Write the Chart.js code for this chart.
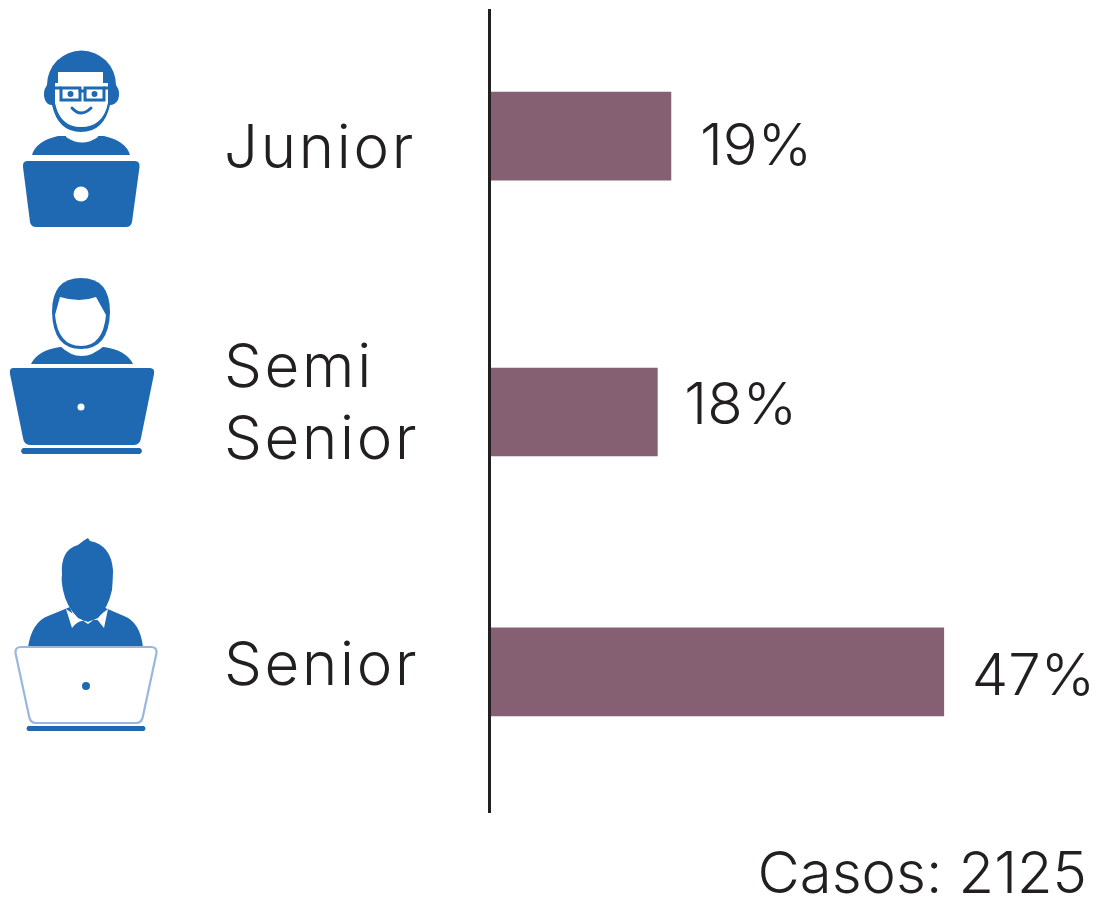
<!DOCTYPE html>
<html><head><meta charset="utf-8">
<style>html,body{margin:0;padding:0;background:#fff}canvas{display:block}</style>
<script src="https://cdn.jsdelivr.net/npm/chart.js@4"></script></head>
<body><canvas id="c" width="1099" height="898"></canvas>
<script>
const categories = [['Junior'], ['Semi','Senior'], ['Senior']];
const barValues = [18.8, 17.4, 47];
const valueLabels = ['19%', '18%', '47%'];
const casesLabel = 'Casos: 2125';

const INK = '#231f20', BAR = '#856073', BLUE = '#1f69b3', FONT = 'Inter';
const rowShift = [-7.5, 1, -6.5];
const tickShift = [6.5, -6, -11];
const valueDx = [29, 27, 28];
const valueDy = [11.5, -5, 6];

function installRows(scale){
  if (scale._rowsInstalled) return;
  scale._rowsInstalled = true;
  const base = scale.getPixelForValue.bind(scale);
  scale.getPixelForValue = (v,i)=>{
    const idx = typeof v==='number' ? v : scale.parse(v);
    return base(idx) + (rowShift[idx]||0);
  };
  scale.getPixelForTick = (i)=> base(scale.ticks[i].value) + tickShift[i];
  const dl = scale.drawLabels.bind(scale);
  scale.drawLabels = (a)=>{ scale.ctx.letterSpacing='2.7px'; dl(a); scale.ctx.letterSpacing='0px'; };
}

function P(ctx,d,fill){ctx.fillStyle=fill;ctx.fill(new Path2D(d));}
function drawIcons(ctx){
  ctx.save();
  // Junior
  P(ctx,'M32,155 Q36,141 58,136 L104,136 Q126,141 130,155 Z',BLUE);
  P(ctx,'M67,130 L96,130 L98,137 Q82,148 66,137 Z','#fff');
  P(ctx,'M47,85 A34.5,34.5 0 0 1 116,85 Q121,92 118,100 Q115,105 110,105 Q104,132 81,132 Q58,132 52,105 Q47,105 45,100 Q42,92 47,85 Z',BLUE);
  P(ctx,'M58,72 L103,72 L103,83 L108,83 L108,103 Q103,127 81,127 Q60,127 55,103 L55,83 L58,83 Z','#fff');
  ctx.strokeStyle=BLUE;ctx.lineWidth=3;ctx.lineCap='round';
  ctx.strokeRect(61,88,19,12);ctx.strokeRect(85,88,19,12);
  ctx.beginPath();ctx.moveTo(80,91);ctx.lineTo(85,91);ctx.moveTo(54,88);ctx.lineTo(61,88);ctx.moveTo(104,88);ctx.lineTo(110,88);ctx.stroke();
  ctx.fillStyle=BLUE;ctx.beginPath();ctx.arc(70.5,94,3,0,7);ctx.arc(94.5,94,3,0,7);ctx.fill();
  ctx.beginPath();ctx.moveTo(72,108);ctx.quadraticCurveTo(81,118,91,108);ctx.stroke();
  P(ctx,'M27,161 L135,161 Q140,161 139.5,167 L132,222 Q131,227 126,227 L36,227 Q31,227 30,222 L23,167 Q22.5,161 27,161 Z',BLUE);
  ctx.fillStyle='#fff';ctx.beginPath();ctx.arc(81,194,7.5,0,7);ctx.fill();
  // Semi Senior
  P(ctx,'M31,364 Q38,350 60,347 L104,347 Q126,350 133,364 Z',BLUE);
  P(ctx,'M60,346 Q81,366 104,346 L100,340 L64,340 Z','#fff');
  P(ctx,'M52,312 Q52,278 81,278 Q110,278 110,312 Q109,349 81,349 Q53,349 52,312 Z',BLUE);
  P(ctx,'M55,315 L60,297 Q80,303 96,297 L106,315 Q103,346 81,346 Q58,346 55,315 Z','#fff');
  P(ctx,'M13,368 L150,368 Q155,368 154,374 L141,438 Q140,445 134,445 L30,445 Q24,445 23,438 L10,374 Q9,368 13,368 Z',BLUE);
  ctx.fillStyle='#fff';ctx.beginPath();ctx.arc(81,407,3.5,0,7);ctx.fill();
  P(ctx,'M23,448 L140,448 Q144,451 140,454 L23,454 Q19,451 23,448 Z',BLUE);
  // Senior
  P(ctx,'M28,647 Q32,622 48,616 L70,607 L75,620 L97,620 L103,607 L124,616 Q140,622 143,647 Z',BLUE);
  P(ctx,'M66,609 L72,628 Q80,618 88,622 L96,618 L104,628 L108,609 L88,624 Z','#fff');
  P(ctx,'M62,575 Q60,550 78,545 Q84,540 88,538 L90,541 Q111,545 113,570 Q113,578 112,590 Q108,608 98,618 Q88,624 78,618 Q66,606 63,590 Q61,580 62,575 Z',BLUE);
  ctx.strokeStyle='#9ab7dd';ctx.lineWidth=2.2;ctx.fillStyle='#fff';
  const lap=new Path2D('M21,647 L151,647 Q157,647 156.5,653 L143,716 Q142,723 136,723 L36,723 Q30,723 29,716 L15.5,653 Q15,647 21,647 Z');
  ctx.fill(lap);ctx.stroke(lap);
  P(ctx,'M28,726 L144,726 Q147,728.5 144,731 L28,731 Q25,728.5 28,726 Z',BLUE);
  ctx.fillStyle=BLUE;ctx.beginPath();ctx.arc(86,686,4,0,7);ctx.fill();
  ctx.restore();
}

const deco = {
  id:'deco',
  afterDatasetsDraw(chart){
    const ctx=chart.ctx, meta=chart.getDatasetMeta(0);
    drawIcons(ctx);
    ctx.save();
    ctx.font='300 58px '+FONT;ctx.fillStyle=INK;ctx.textAlign='left';ctx.textBaseline='middle';
    meta.data.forEach((el,i)=>ctx.fillText(valueLabels[i],el.x+valueDx[i],el.y+valueDy[i]));
    ctx.restore();
  }
};

new Chart(document.getElementById('c'),{
  type:'bar',
  plugins:[deco],
  data:{labels:categories,datasets:[{data:barValues,backgroundColor:BAR,barThickness:88,borderWidth:0}]},
  options:{
    indexAxis:'y',responsive:false,animation:false,
    layout:{padding:{left:224,right:12,top:10,bottom:0}},
    plugins:{legend:{display:false},tooltip:{enabled:false},
      title:{display:true,text:casesLabel,position:'bottom',align:'end',color:INK,
        font:{family:FONT,size:58,weight:'300',lineHeight:0.85},padding:{top:39,bottom:-2.3}}},
    scales:{
      x:{display:false,min:0,max:61.8,grid:{display:false}},
      y:{position:'left',
        grid:{display:false,drawTicks:false},
        border:{display:true,color:INK,width:3,z:1},
        ticks:{autoSkip:false,crossAlign:'far',color:INK,padding:0,font:{family:FONT,size:60,weight:'300',lineHeight:1.2}},
        afterFit(s){s.width=489-224;s.paddingTop=0;s.paddingBottom=0;},
        afterBuildTicks:installRows
      }
    }
  }
});
</script></body></html>
